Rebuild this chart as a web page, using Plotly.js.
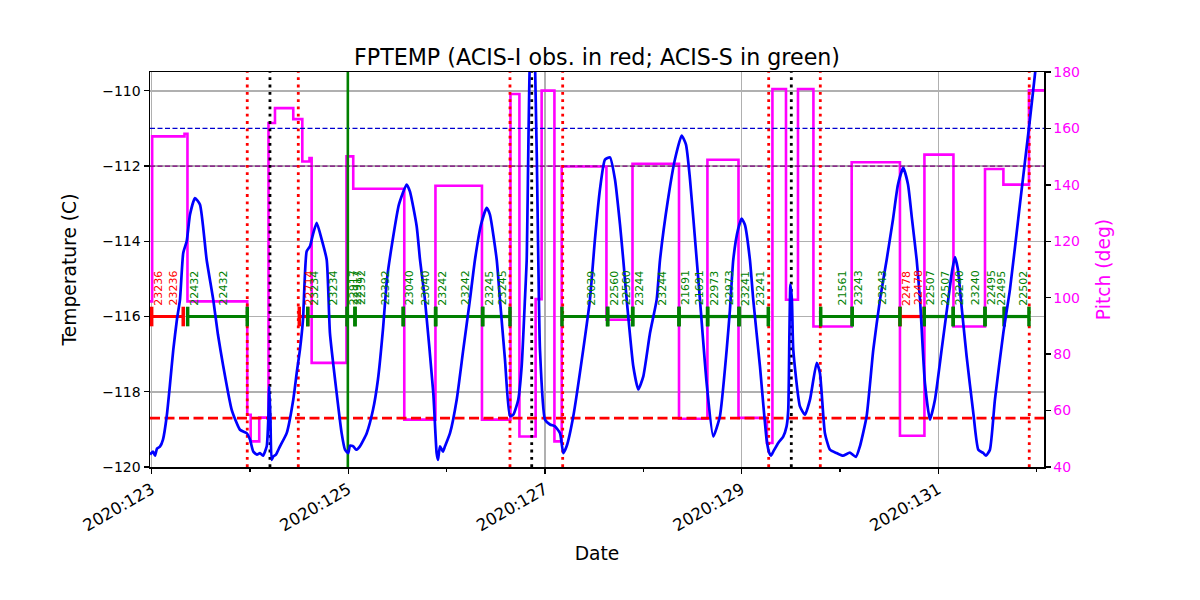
<!DOCTYPE html>
<html><head><meta charset="utf-8">
<script src="https://cdn.plot.ly/plotly-3.0.1.min.js"></script>
<style>html,body{margin:0;padding:0;background:#fff}#chart{width:1200px;height:600px}</style>
</head><body><div id="chart"></div>
<script>
// ---- Data (day of year 2020) ----
const tempTime = [
122.983,123.013,123.034,123.054,123.084,123.115,123.153,123.186,123.220,123.257,
123.288,123.321,123.356,123.390,123.440,123.491,123.559,123.626,123.674,123.728,
123.814,123.898,123.966,124.000,124.033,124.071,124.101,124.132,124.170,124.186,
124.196,124.208,124.220,124.237,124.264,124.305,124.373,124.440,124.475,124.508,
124.539,124.576,124.610,124.640,124.678,124.729,124.780,124.813,124.881,124.932,
124.966,124.999,125.017,125.050,125.078,125.118,125.187,125.251,125.301,125.352,
125.393,125.444,125.515,125.593,125.627,125.695,125.729,125.779,125.864,125.898,
125.912,125.932,125.962,125.983,126.034,126.102,126.169,126.237,126.288,126.349,
126.407,126.440,126.509,126.542,126.593,126.644,126.678,126.728,126.763,126.796,
126.814,126.847,126.873,126.898,126.932,126.949,127.000,127.051,127.102,127.153,
127.186,127.220,127.288,127.389,127.457,127.508,127.559,127.610,127.661,127.712,
127.763,127.796,127.831,127.898,127.949,128.000,128.068,128.136,128.170,128.251,
128.322,128.390,128.434,128.475,128.543,128.576,128.644,128.711,128.779,128.848,
128.881,128.915,128.963,129.000,129.033,129.084,129.118,129.186,129.254,129.281,
129.298,129.322,129.372,129.423,129.457,129.474,129.486,129.496,129.511,129.525,
129.593,129.644,129.695,129.763,129.796,129.847,129.898,129.966,130.030,130.101,
130.162,130.203,130.271,130.339,130.407,130.475,130.539,130.590,130.644,130.692,
130.733,130.780,130.814,130.864,130.915,130.966,131.034,131.101,131.139,131.169,
131.200,131.230,131.288,131.356,131.407,131.458,131.485,131.525,131.576,131.661,
131.729,131.830,131.932,132.000,132.075];
const tempValue = [
-119.67,-119.59,-119.70,-119.51,-119.46,-119.27,-118.65,-117.81,-116.88,-116.08,
-115.55,-114.31,-114.00,-113.29,-112.85,-113.02,-114.49,-115.55,-116.48,-117.32,
-118.48,-119.01,-119.10,-119.27,-119.59,-119.67,-119.63,-119.70,-119.45,-118.74,
-117.86,-118.74,-119.81,-119.72,-119.67,-119.45,-119.10,-118.21,-117.50,-116.88,
-116.08,-114.27,-114.13,-113.82,-113.51,-113.95,-114.49,-116.44,-118.03,-119.10,
-119.54,-119.63,-119.43,-119.45,-119.54,-119.45,-119.10,-118.48,-117.68,-116.35,
-115.01,-114.08,-113.02,-112.49,-112.68,-113.60,-114.49,-115.55,-118.03,-119.63,
-119.81,-119.45,-119.59,-119.45,-119.10,-118.21,-116.88,-115.55,-114.49,-113.56,
-113.11,-113.29,-114.49,-115.55,-117.14,-118.65,-118.61,-118.21,-117.32,-115.55,
-114.49,-109.16,-108.40,-109.16,-114.49,-116.88,-118.74,-118.87,-118.92,-119.10,
-119.63,-119.45,-118.65,-116.88,-115.55,-113.95,-112.62,-111.83,-111.77,-112.36,
-113.56,-114.49,-115.55,-117.32,-117.94,-117.59,-116.44,-115.55,-114.49,-112.89,
-111.82,-111.19,-111.43,-112.36,-114.49,-115.55,-117.77,-119.19,-118.65,-116.88,
-115.82,-114.49,-113.69,-113.40,-113.56,-114.49,-115.55,-117.32,-119.27,-119.63,
-119.70,-119.59,-119.36,-119.19,-118.92,-118.48,-116.43,-115.15,-115.55,-116.88,
-118.39,-118.61,-118.21,-117.23,-117.50,-119.10,-119.54,-119.63,-119.70,-119.62,
-119.73,-119.45,-118.65,-116.88,-115.55,-114.49,-113.42,-112.49,-112.05,-112.49,
-113.42,-114.49,-115.55,-117.77,-118.74,-118.21,-116.88,-115.55,-114.81,-114.42,
-114.75,-115.55,-117.06,-118.56,-119.54,-119.63,-119.70,-119.54,-118.21,-116.44,
-115.28,-113.02,-110.76,-109.16,-107.40];

const pitchTime = [122.983,123.005,123.334,123.364,123.972,124.007,124.094,124.188,124.254,124.440,124.532,
124.605,124.627,124.981,125.050,125.569,125.886,126.359,126.649,126.740,126.905,
126.966,127.096,127.170,127.625,127.890,128.363,128.652,128.968,129.257,129.313,
129.451,129.573,129.730,130.119,130.610,130.859,131.154,131.475,131.662,131.922,132.075];
const pitchValue = [98.7,157.2,158.1,98.7,58.5,49.1,57.5,161.9,167.2,163.3,148.3,
149.5,76.9,150.1,138.6,56.8,139.7,56.8,172.2,50.8,99.5,
173.4,49.1,146.5,92.2,147.5,57.1,148.9,57.4,48.5,174.0,
99.3,174.0,89.8,148.0,51.1,150.7,89.8,145.6,140.1,173.5,173.5];

const obsId    = ['23236','22432','22714','23234','22917','22392','23040','23242','23245','23039','22560',
                  '23244','21691','22973','23241','21561','23243','22478','22507','23240','22495','22502'];
const obsInstr = ['I','S','I','S','S','S','S','S','S','S','S','S','S','S','S','S','S','I','S','S','S','S'];
const obsStart = [123.000,123.366,124.501,124.587,124.989,125.068,125.559,125.888,126.366,127.173,127.637,
                  127.892,128.363,128.654,128.973,129.804,130.125,130.610,130.857,131.152,131.475,131.671];
const obsStop  = [123.321,123.972,124.587,124.989,125.068,125.559,125.888,126.366,126.644,127.637,127.892,
                  128.363,128.654,128.973,129.271,130.125,130.610,130.857,131.152,131.475,131.671,131.922];
const obsStartLabel = [1,1,0,1,1,1,1,1,1,0,1,1,1,1,1,0,1,1,1,1,1,0];
const obsLevel = -116;

const radZoneLines = [123.972,124.491,126.644,127.180,129.275,129.800,131.925];
const perigeeLines = [124.203,126.865,129.505];
const loadLines = [124.995];
const acisILimit = -111.0;
const acisSLimit = -112.0;
const coldLimit = -118.7;

const dateTicks = [123,125,127,129,131];
const dateTickLabels = ['2020:123','2020:125','2020:127','2020:129','2020:131'];
const pitchTicks = [40,60,80,100,120,140,160,180];

const xRange = [122.983, 132.075];
const tRange = [-120, -109.5];

// ---- Traces ----
const traces = [];
traces.push({x: pitchTime, y: pitchValue, xaxis:'x', yaxis:'y', mode:'lines',
  line:{shape:'hv', color:'#ff00ff', width:2.6}, hoverinfo:'skip'});

function hline(v, color, width, dash){
  traces.push({x: xRange, y:[v,v], xaxis:'x', yaxis:'y2', mode:'lines',
    line:{color:color, width:width, dash:dash}, hoverinfo:'skip'});
}
function vlines(arr, color, width, dash){
  const xs=[], ys=[];
  arr.forEach(v=>{xs.push(v,v,null); ys.push(tRange[0],tRange[1],null);});
  traces.push({x: xs, y: ys, xaxis:'x', yaxis:'y2', mode:'lines',
    line:{color:color, width:width, dash:dash}, hoverinfo:'skip'});
}
hline(acisILimit, '#0000d0', 1.3, '5px,2.5px');
hline(acisSLimit, '#800080', 1.3, '5px,2.5px');
hline(coldLimit, '#ff0000', 2.6, '10px,4.5px');
vlines(loadLines, '#008000', 2.6, 'solid');
vlines(radZoneLines, '#ff0000', 2.8, '2.8px,4.5px');
vlines(perigeeLines, '#000000', 2.8, '2.8px,4.5px');

['I','S'].forEach(inst=>{
  const col = inst==='I' ? '#ff0000' : '#008000';
  const xs=[], ys=[];
  obsId.forEach((id,i)=>{ if(obsInstr[i]===inst){ xs.push(obsStart[i],obsStop[i],null); ys.push(obsLevel,obsLevel,null);} });
  traces.push({x:xs, y:ys, xaxis:'x', yaxis:'y2', mode:'lines+markers',
    line:{color:col, width:3.2}, marker:{symbol:'line-ns', size:14, color:col, line:{color:col, width:3.5}},
    hoverinfo:'skip'});
});

traces.push({x: tempTime, y: tempValue, xaxis:'x', yaxis:'y2', mode:'lines',
  line:{color:'#0000ff', width:2.7, shape:'spline', smoothing:0.5}, hoverinfo:'skip'});

// ---- obsid labels ----
const annotations = [];
obsId.forEach((id,i)=>{
  const col = obsInstr[i]==='I' ? '#ff0000' : '#008000';
  const pos = [];
  if(obsStartLabel[i]) pos.push(obsStart[i]);
  pos.push((obsStart[i]+obsStop[i])/2);
  pos.forEach(p=>annotations.push({x:p, y:obsLevel, xref:'x', yref:'y2', text:id, textangle:-90,
    showarrow:false, xanchor:'left', yanchor:'bottom', xshift:-2.5, yshift:9,
    font:{family:'DejaVu Sans', size:11, color:col}}));
});

const axLine = {showline:true, linecolor:'black', linewidth:1.5, zeroline:false};
const layout = {
  width:1200, height:600, margin:{l:150, r:156, t:72, b:133},
  paper_bgcolor:'white', plot_bgcolor:'white', showlegend:false,
  font:{family:'DejaVu Sans', size:14, color:'black'},
  title:{text:'FPTEMP (ACIS-I obs. in red; ACIS-S in green)', font:{size:22.2, color:'black'},
    x:0.4975, xref:'container', xanchor:'center', y:1-57/600, yref:'container', yanchor:'middle'},
  xaxis:Object.assign({}, axLine, {range:xRange, mirror:true, tickmode:'array', tickvals:dateTicks, ticktext:dateTickLabels,
    tickangle:-30, tickfont:{size:16.5}, ticks:'outside', ticklen:5, tickwidth:1.3, tickcolor:'black',
    showgrid:true, gridcolor:'#b0b0b0', gridwidth:1.5,
    minor:{tickmode:'linear', tick0:123, dtick:1, ticks:'outside', ticklen:3, tickwidth:1.1, tickcolor:'black', showgrid:false},
    title:{text:'Date', standoff:12, font:{size:18.7}}}),
  yaxis:Object.assign({}, axLine, {side:'right', range:[40,180], tickmode:'array', tickvals:pitchTicks,
    ticks:'outside', ticklen:5, tickwidth:1.3, tickcolor:'black', tickfont:{color:'#ff00ff', size:14},
    showgrid:false, title:{text:'Pitch (deg)', standoff:18, font:{color:'#ff00ff', size:18.7}}}),
  yaxis2:Object.assign({}, axLine, {overlaying:'y', side:'left', range:tRange, tick0:-120, dtick:2,
    ticks:'outside', ticklen:5, tickwidth:1.3, tickcolor:'black', tickfont:{size:14},
    showgrid:true, gridcolor:'#b0b0b0', gridwidth:1.5,
    title:{text:'Temperature (C)', standoff:20, font:{size:18.7}}}),
  annotations: annotations
};
Plotly.newPlot('chart', traces, layout, {staticPlot:true, displayModeBar:false});
</script></body></html>
